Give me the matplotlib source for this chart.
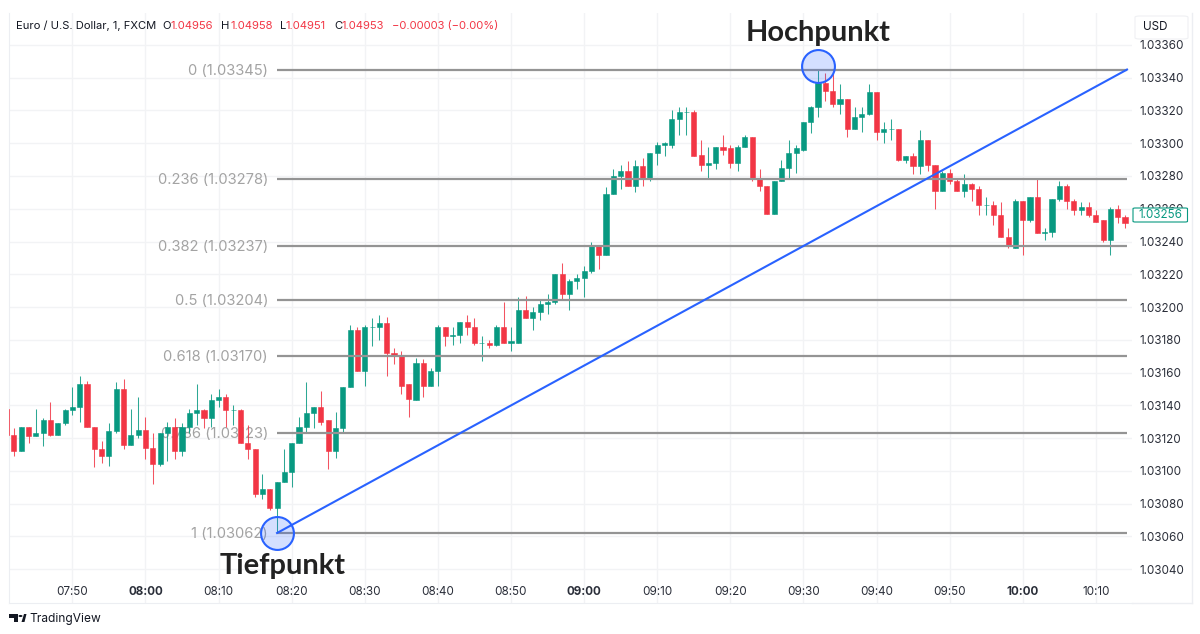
#EUR/USD 1 minute chart with Fibonacci levels
import matplotlib
matplotlib.use('Agg')
import matplotlib.pyplot as plt
from matplotlib.patches import FancyBboxPatch, Polygon, Circle
from matplotlib.lines import Line2D

#first candle is 07:41, one candle per minute, values are points above 1.03000
first_minute = 461
opens = [138,122,112,127,121,123,131,122,129,137,
         139,153,127,113,109,124,150,116,122,125,
         114,104,123,127,112,127,135,137,132,143,
         145,137,137,117,113,86,89,77,93,99,
         117,127,135,139,131,112,126,151,186,161,
         188,188,190,172,170,153,143,166,152,161,
         188,182,183,191,188,178,178,177,188,178,
         178,198,193,197,202,203,220,208,216,218,
         222,238,232,269,280,283,274,286,279,294,
         299,299,315,319,319,293,287,288,298,297,
         288,298,304,279,274,257,277,285,294,296,
         313,322,337,332,324,327,309,316,318,331,
         307,309,309,290,292,286,302,287,271,282,
         277,271,275,272,262,262,256,243,236,265,
         253,267,245,246,266,274,265,259,261,256,
         253,241,260,255]
highs = [139,126,127,127,138,132,142,129,138,151,
         158,155,127,118,129,154,156,138,145,133,
         123,123,130,132,129,138,153,138,147,150,
         147,140,138,128,113,98,89,93,113,117,
         133,154,139,149,131,136,151,189,188,189,
         193,195,194,175,173,153,169,168,163,189,
         188,188,191,195,193,182,180,189,203,188,
         206,207,200,205,208,220,227,217,220,225,
         240,238,273,284,287,289,290,291,294,301,
         301,320,322,322,320,302,298,298,305,299,
         299,305,304,284,274,277,290,302,299,313,
         323,345,343,342,336,327,322,322,336,331,
         313,315,309,292,294,308,302,287,283,284,
         278,281,276,274,267,265,264,248,266,265,
         267,278,248,266,277,275,266,264,264,259,
         253,261,262,256]
lows = [122,109,112,117,121,115,121,122,128,134,
        130,127,102,105,103,123,113,116,120,107,
        92,103,106,107,109,123,128,126,127,139,
        127,128,117,107,84,83,76,62,93,90,
        117,123,126,128,101,108,123,151,161,152,
        176,180,158,165,147,133,143,145,152,152,
        176,177,178,183,177,167,175,176,178,173,
        178,193,186,192,196,202,205,198,211,206,
        221,223,232,269,272,274,270,274,277,287,
        292,297,305,305,292,283,278,284,293,285,
        283,298,277,271,257,257,277,278,282,295,
        306,316,326,322,318,304,309,307,317,302,
        300,302,289,288,281,281,283,260,271,275,
        271,267,265,256,256,250,243,236,236,232,
        252,245,241,243,265,260,256,256,255,252,
        240,232,251,248]
closes = [122,112,127,121,123,131,122,129,137,139,
          153,127,113,109,124,150,116,122,125,114,
          104,123,127,112,127,135,137,132,143,145,
          137,137,117,113,86,89,77,93,99,117,
          127,135,139,130,112,126,151,186,161,188,
          188,190,172,170,152,144,166,152,161,188,
          182,183,191,188,178,178,177,188,178,179,
          198,193,197,202,203,220,208,216,218,222,
          238,232,269,280,283,274,286,279,294,299,
          300,315,319,319,292,287,288,298,296,288,
          298,304,278,274,257,277,285,294,297,313,
          322,337,332,324,327,309,316,318,331,307,
          309,309,290,292,286,302,287,271,282,277,
          271,275,272,262,262,256,243,237,265,253,
          267,245,246,266,274,265,259,261,256,252,
          241,260,255,251]

fib_levels = [1.03345, 1.03278, 1.03237, 1.03204, 1.03170, 1.03123, 1.03062]
fib_labels = ['0 (1.03345)', '0.236 (1.03278)', '0.382 (1.03237)', '0.5 (1.03204)',
              '0.618 (1.03170)', '0.786 (1.03123)', '1 (1.03062)']
price_ticks = [1.0304, 1.0306, 1.0308, 1.0310, 1.0312, 1.0314, 1.0316, 1.0318, 1.0320,
               1.0322, 1.0324, 1.0326, 1.0328, 1.0330, 1.0332, 1.0334, 1.0336]
time_ticks = [470, 480, 490, 500, 510, 520, 530, 540, 550, 560, 570, 580, 590, 600, 610]
time_labels = ['07:50', '08:00', '08:10', '08:20', '08:30', '08:40', '08:50', '09:00',
               '09:10', '09:20', '09:30', '09:40', '09:50', '10:00', '10:10']
low_point = (498, 1.03062)
high_point = (572, 1.03347)
line_end = (614.27, 1.03345)
last_price = '1.03256'

UP = '#089981'
DOWN = '#f23645'
BLUE = '#2962ff'
GRID = '#f2f3f5'
W, H = 1200, 634


#figure coordinates from pixel coordinates
def px(x, y):
    return x / W, 1 - y / H


fig = plt.figure(figsize=(12, 6.34), dpi=100, facecolor='white')
ax = fig.add_axes([9 / W, 1 - 603 / H, (1132 - 9) / W, (603 - 13) / H])
ax.set_xlim(461.33, 614.95)
ax.set_ylim(1.0301924, 1.0337954)
ax.set_axisbelow(True)
ax.grid(True, color=GRID, lw=1)

ax.yaxis.tick_right()
ax.set_yticks(price_ticks)
ax.set_yticklabels(['%.5f' % p for p in price_ticks], family='Inter', fontsize=8.4, color='#2a2e39')
ax.set_xticks(time_ticks)
ax.set_xticklabels(time_labels, family='Inter', fontsize=8.4, color='#2a2e39')
for lab, name in zip(ax.get_xticklabels(), time_labels):
    if name in ('08:00', '09:00', '10:00'):
        lab.set_fontweight('bold')
ax.tick_params(axis='y', length=0, pad=5)
ax.tick_params(axis='x', length=0, pad=-12.4)
for side in ['top', 'right']:
    ax.spines[side].set_visible(False)
for side in ['left', 'bottom']:
    ax.spines[side].set_color('#eceef2')

#fib labels sit under the candles
for level, label in zip(fib_levels, fib_labels):
    ax.annotate(label, (low_point[0], level), xytext=(-6.5, -0.7), textcoords='offset points',
                ha='right', va='center', family='Inter', fontsize=10.6, color='#a3a3a3', zorder=1.5)

#candles
for i in range(len(opens)):
    m = first_minute + i
    o, h, l, c = [1.03 + v / 100000 for v in (opens[i], highs[i], lows[i], closes[i])]
    col = UP if closes[i] >= opens[i] else DOWN
    ax.vlines(m, l, h, color=col, lw=0.75, zorder=2, alpha=0.85)
    ax.bar(m, max(o, c) - min(o, c), 0.7, bottom=min(o, c), color=col, edgecolor=col, lw=0.4, zorder=3)

#fib lines and trend line on top of the candles
ax.hlines(fib_levels, low_point[0], line_end[0], color='#949494', lw=1.6, zorder=4)
ax.plot([low_point[0], line_end[0]], [low_point[1], line_end[1]], color=BLUE, lw=1.5, zorder=5)
ax.scatter([low_point[0], high_point[0]], [low_point[1], high_point[1]], s=560,
           facecolor=(0.16, 0.38, 1, 0.2), edgecolor=BLUE, lw=1.5, zorder=6, clip_on=False)

#header text pieces
header = [(16, 'Euro / U.S. Dollar, 1, FXCM', '#131722'), (162, 'O', '#131722'), (171, '1.04956', DOWN),
          (221, 'H', '#131722'), (230, '1.04958', DOWN), (280, 'L', '#131722'), (286, '1.04951', DOWN),
          (334, 'C', '#131722'), (342, '1.04953', DOWN), (392, '\u22120.00003 (\u22120.00%)', DOWN)]
for x, s, col in header:
    xf, yf = px(x, 26)
    fig.text(xf, yf, s, family='Inter', fontsize=8.05, color=col, va='center', ha='left')

xf, yf = px(818, 33)
fig.text(xf, yf, 'Hochpunkt', family='Lato', fontweight='bold', fontsize=20.9, color='#222222',
         ha='center', va='center', zorder=8)
xf, yf = px(282.5, 566)
fig.text(xf, yf, 'Tiefpunkt', family='Lato', fontweight='bold', fontsize=20.9, color='#222222',
         ha='center', va='center', zorder=8)

#price axis extras
x0, y0 = px(1135, 39)
usd_box = FancyBboxPatch((x0, y0), 53 / W, 23 / H, boxstyle='round,pad=0,rounding_size=0.004',
                         transform=fig.transFigure, fc='white', ec='#eff0f3', lw=0.8, zorder=7,
                         mutation_aspect=H / W)
fig.add_artist(usd_box)
xf, yf = px(1143, 27.5)
fig.text(xf, yf, 'USD', family='Inter', fontsize=8.4, color='#131722', va='center', zorder=8)

x0, y0 = px(1133, 222)
last_box = FancyBboxPatch((x0, y0), 54.5 / W, 14 / H, boxstyle='round,pad=0,rounding_size=0.002',
                          transform=fig.transFigure, fc='white', ec=UP, lw=0.8, zorder=7,
                          mutation_aspect=H / W)
fig.add_artist(last_box)
xf, yf = px(1160, 215)
fig.text(xf, yf, last_price, family='Inter', fontsize=8.4, color=UP, ha='center', va='center', zorder=8)

#outer frame of the price axis
x1, y1 = px(1132, 603)
x2, y2 = px(1192, 603)
fig.add_artist(Line2D([x1, x2], [y1, y2], color='#eceef2', lw=1))
x1, y1 = px(1192, 13)
fig.add_artist(Line2D([x1, x2], [y1, y2], color='#eceef2', lw=1))

#TradingView logo
logo = [[(9, 614), (18, 614), (18, 622), (14, 622), (14, 618), (9, 618)],
        [(21.5, 622), (24, 614), (26.5, 614), (24.5, 622)]]
for pts in logo:
    fig.add_artist(Polygon([px(*p) for p in pts], closed=True, transform=fig.transFigure, fc='#131722', ec='none'))
fig.add_artist(Circle(px(20.5, 616), 2 / W, transform=fig.transFigure, fc='#131722', ec='none'))
xf, yf = px(29.5, 619)
fig.text(xf, yf, 'TradingView', family='Inter', fontsize=8.6, color='#131722', va='center')

fig.savefig('out.png', dpi=100)
